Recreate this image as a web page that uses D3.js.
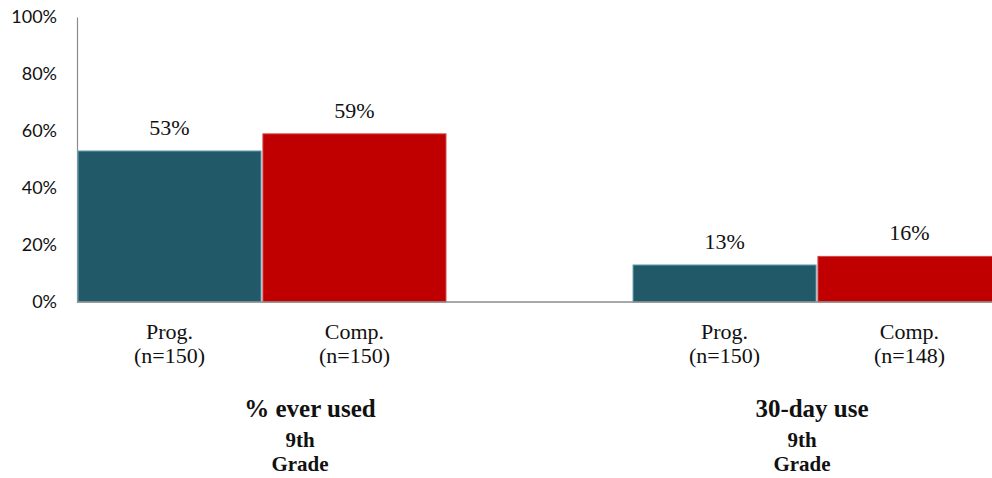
<!DOCTYPE html>
<html><head><meta charset="utf-8">
<script src="https://cdn.jsdelivr.net/npm/d3@7"></script>
<style>
html,body{margin:0;padding:0;background:#fff;}
svg{display:block;}
</style></head>
<body>
<svg id="chart" width="992" height="478"></svg>
<script>
// ---- data ----
const groups = ["% ever used", "30-day use"];
const groupSub = ["9th", "Grade"];
const series = ["Prog.", "Comp."];
const progValues = [0.53, 0.13];
const compValues = [0.59, 0.16];
const progN = ["(n=150)", "(n=150)"];
const compN = ["(n=150)", "(n=148)"];
const yTicks = [0, 0.2, 0.4, 0.6, 0.8, 1.0];

const colors = {"Prog.": "#215968", "Comp.": "#C00000"};
const strokes = {"Prog.": "#6aa6b8", "Comp.": "#d04848"};

const svg = d3.select("#chart");
const y = d3.scaleLinear().domain([0, 1]).range([302, 17]);
const x0 = d3.scaleBand().domain(groups).range([78, 1001]).paddingInner(0.337).paddingOuter(0);
const x1 = d3.scaleBand().domain(series).range([0, x0.bandwidth()]).paddingInner(0.01);

const rows = groups.map((g, i) => ({
  group: g,
  bars: [
    {s: "Prog.", v: progValues[i], n: progN[i]},
    {s: "Comp.", v: compValues[i], n: compN[i]}
  ]
}));

// y axis
const yAxis = d3.axisLeft(y).tickValues(yTicks).tickFormat(d3.format(".0%")).tickSize(0).tickPadding(20);
const ya = svg.append("g").attr("transform", "translate(77,0)").call(yAxis);
ya.select(".domain").attr("stroke", "#8c8c8c").attr("stroke-width", 1.2);
ya.selectAll("text").attr("font-family", "Lato, 'Open Sans', sans-serif").attr("font-size", 18).attr("fill", "#111");

// bars
const gEl = svg.selectAll("g.grp").data(rows).join("g").attr("class", "grp")
  .attr("transform", d => `translate(${x0(d.group)},0)`);

gEl.selectAll("rect").data(d => d.bars).join("rect")
  .attr("x", d => x1(d.s))
  .attr("y", d => y(d.v))
  .attr("width", x1.bandwidth())
  .attr("height", d => y(0) - y(d.v))
  .attr("fill", d => colors[d.s])
  .attr("stroke", d => strokes[d.s])
  .attr("stroke-width", 1);

gEl.selectAll("text.val").data(d => d.bars).join("text").attr("class", "val")
  .attr("x", d => x1(d.s) + x1.bandwidth() / 2)
  .attr("y", d => y(d.v) - 16)
  .attr("text-anchor", "middle")
  .attr("font-family", "'Liberation Serif', 'Times New Roman', serif")
  .attr("font-size", 22).attr("fill", "#111")
  .text(d => Math.round(d.v * 100) + "%");

// category labels
gEl.each(function(d) {
  const g = d3.select(this);
  d.bars.forEach(b => {
    const t = g.append("text")
      .attr("x", x1(b.s) + x1.bandwidth() / 2)
      .attr("text-anchor", "middle")
      .attr("font-family", "'Liberation Serif', 'Times New Roman', serif")
      .attr("font-size", 22).attr("fill", "#111");
    t.append("tspan").attr("x", x1(b.s) + x1.bandwidth() / 2).attr("y", 339).text(b.s);
    t.append("tspan").attr("x", x1(b.s) + x1.bandwidth() / 2).attr("y", 363).text(b.n);
  });
});

// x axis line
svg.append("line").attr("x1", 77).attr("x2", 992).attr("y1", y(0)).attr("y2", y(0))
  .attr("stroke", "#8c8c8c").attr("stroke-width", 1.5);

// group labels
const titleShift = [48, -5];
const subShift = [38, -15];
rows.forEach((d, i) => {
  const cx = x0(d.group) + x0.bandwidth() / 2;
  svg.append("text").attr("x", cx + titleShift[i]).attr("y", 417)
    .attr("text-anchor", "middle").attr("font-weight", "bold")
    .attr("font-family", "'Liberation Serif', 'Times New Roman', serif")
    .attr("font-size", 25).attr("fill", "#111").text(d.group);
  groupSub.forEach((s, k) => {
    svg.append("text").attr("x", cx + subShift[i]).attr("y", 447 + k * 24)
      .attr("text-anchor", "middle").attr("font-weight", "bold")
      .attr("font-family", "'Liberation Serif', 'Times New Roman', serif")
      .attr("font-size", 21).attr("fill", "#111").text(s);
  });
});
</script>
</body></html>
